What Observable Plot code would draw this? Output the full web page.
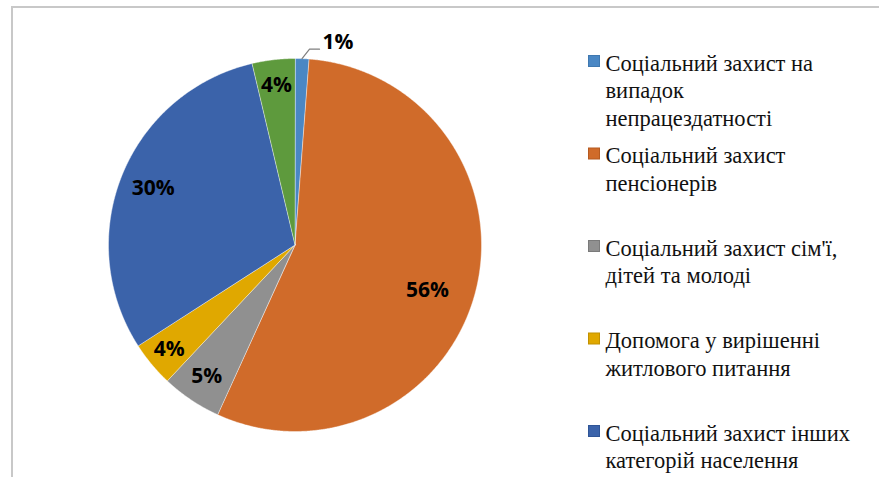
<!DOCTYPE html>
<html><head><meta charset="utf-8">
<script src="https://cdn.jsdelivr.net/npm/d3@7"></script>
<script src="https://cdn.jsdelivr.net/npm/@observablehq/plot@0.6"></script>
<style>
body{margin:0;background:#fff;}
#wrap{position:relative;width:879px;height:477px;overflow:hidden;background:#fff;}
#frame{position:absolute;left:11px;top:6px;width:900px;height:500px;border-left:2px solid #c8c8c8;border-top:2px solid #c8c8c8;}
#chart{position:absolute;left:0;top:0;}
#legend{position:absolute;left:580px;top:0;}
#legend text{font-family:'Liberation Serif','Times New Roman',Tinos,'DejaVu Serif',serif !important;}
</style></head>
<body>
<div id="wrap"><div id="frame"></div><div id="chart"></div><div id="legend"></div></div>
<script>
// ---- data ----
const categories = [
  "Соціальний захист на випадок непрацездатності",
  "Соціальний захист пенсіонерів",
  "Соціальний захист сім'ї, дітей та молоді",
  "Допомога у вирішенні житлового питання",
  "Соціальний захист інших категорій населення",
  "Інші видатки"
];
const shares = [1.2, 55.6, 5.2, 3.9, 30.4, 3.7];
const shareLabels = ["1%", "56%", "5%", "4%", "30%", "4%"];
const colors = ["#4a87c4", "#d06b2a", "#909090", "#e0a800", "#3b63aa", "#5e9a3d"];
const legendBorders = ["#3f78b0", "#b55a20", "#7a7a7a", "#c29100", "#2f5597", "#4e8431"];
const legendLines = [
  ["Соціальний захист на", "випадок", "непрацездатності"],
  ["Соціальний захист", "пенсіонерів"],
  ["Соціальний захист сім'ї,", "дітей та молоді"],
  ["Допомога у вирішенні", "житлового питання"],
  ["Соціальний захист інших", "категорій населення"]
];

// ---- layout (not data) ----
const R = 186.5; // pixel radius of pie, used for pixel offsets
const labelLayout = [
  null,
  {r: 0.80, dx: -12, dy: 8},
  {r: 0.85, dx: 0, dy: 0},
  {r: 0.877, dx: 0, dy: 0},
  {r: 0.82, dx: 0, dy: 0},
  {r: 0.86, dx: 0, dy: 0}
];

const rows = categories.map((c, i) => ({category: c, share: shares[i], label: shareLabels[i]}));
const arcs = d3.pie().sort(null).value(d => d.share)(rows);
const pt = (a, r = 1) => [r * Math.sin(a), -r * Math.cos(a)];

const slices = arcs.map(a => {
  const n = Math.max(4, Math.ceil((a.endAngle - a.startAngle) / 0.005));
  const ring = [[0, 0]];
  for (let k = 0; k <= n; k++) ring.push(pt(a.startAngle + (a.endAngle - a.startAngle) * k / n));
  ring.push([0, 0]);
  return {type: "Feature", properties: a.data, geometry: {type: "Polygon", coordinates: [ring]}};
});
const circleRing = d3.range(0, 361).map(d => pt(d * Math.PI / 180));
const domain = {type: "Polygon", coordinates: [circleRing]};

const inside = arcs.map((a, i) => {
  if (!labelLayout[i]) return null;
  const m = (a.startAngle + a.endAngle) / 2;
  const L = labelLayout[i];
  const p = pt(m, L.r);
  return {x: p[0] + L.dx / R, y: p[1] + L.dy / R, text: a.data.label};
}).filter(d => d);

const m0 = (arcs[0].startAngle + arcs[0].endAngle) / 2;
const p0 = pt(m0, 1);
const p1 = [p0[0] + 7.5 / R, p0[1] - 9.5 / R];
const p2 = [p1[0] + 10 / R, p1[1]];
const leader = [p0, p1, p2].map(([x, y]) => ({x, y}));
const outside = [{x: p2[0], y: p2[1], text: arcs[0].data.label}];

const plot = Plot.plot({
  width: 879, height: 477,
  margin: 0,
  projection: {type: "identity", domain, clip: false, insetLeft: 108, insetRight: 398, insetTop: 58, insetBottom: 46},
  color: {domain: categories, range: colors},
  marks: [
    Plot.geo(slices, {fill: d => d.properties.category, stroke: "#ffffff", strokeWidth: 0.8, strokeOpacity: 0.55}),
    Plot.line(leader, {x: "x", y: "y", stroke: "#7f7f7f", strokeWidth: 1.2}),
    Plot.text(inside, {x: "x", y: "y", text: "text", fontSize: 21, fontWeight: 700, fontFamily: "Open Sans", fill: "#000"}),
    Plot.text(outside, {x: "x", y: "y", text: "text", fontSize: 21, fontWeight: 700, fontFamily: "Open Sans", fill: "#000", textAnchor: "start", dx: 3, dy: -7})
  ]
});
plot.style.background = "transparent";
document.getElementById("chart").appendChild(plot);

// ---- legend, drawn as a second Plot in pixel (identity) coordinates ----
const legX0 = 580;
const legendEntries = legendLines.map((lines, i) => ({i, category: categories[i], baseline: 70 + i * 92.5}));
const legendText = legendEntries.flatMap(e => legendLines[e.i].map((line, j) => ({text: line, x: 605 - legX0, y: e.baseline + j * 27.5})));
const legend = Plot.plot({
  width: 879 - legX0, height: 477, margin: 0,
  x: {type: "identity", axis: null}, y: {type: "identity", axis: null},
  color: {domain: categories, range: colors},
  marks: [
    Plot.rect(legendEntries, {x1: 588.5 - legX0, x2: 599.5 - legX0, y1: e => e.baseline - 14.5, y2: e => e.baseline - 3.5,
      fill: "category", stroke: e => legendBorders[e.i], strokeWidth: 1}),
    Plot.text(legendText, {x: "x", y: "y", text: "text", textAnchor: "start", lineAnchor: "bottom",
      fontFamily: "'Liberation Serif', 'Times New Roman', serif", fontSize: 22.5, fill: "#111"})
  ]
});
legend.style.background = "transparent";
legend.style.overflow = "visible";
document.getElementById("legend").appendChild(legend);
</script>
</body></html>
